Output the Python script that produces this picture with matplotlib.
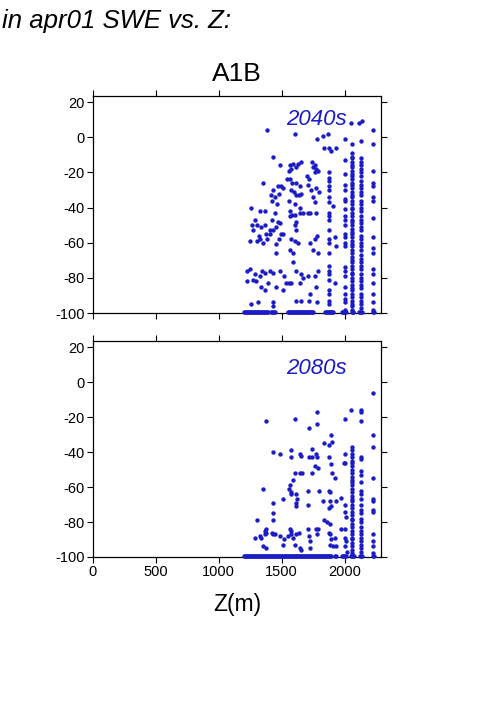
import numpy as np
import matplotlib
matplotlib.use("Agg")
import matplotlib.pyplot as plt

plt.rcParams['font.family'] = ['Liberation Sans', 'DejaVu Sans']
plt.rcParams['axes.unicode_minus'] = False

# --- 2040s: scattered points (Z in m, SWE change in %) ---
z_2040 = [1380, 1610, 1830, 1865, 2115, 2135, 2055, 1780, 1840, 1880, 1930, 1890, 1430, 1485,
          1565, 1590, 1630, 1650, 1578, 1615, 1560,
          1745, 1762, 1775, 1788, 1748, 1768, 1352,
          1430, 1470, 1497, 1510, 1412, 1444, 1476, 1426, 1465,
          1545, 1563, 1582, 1616, 1643, 1571, 1598, 1616, 1635, 1651, 1558, 1603, 1643,
          1701, 1717, 1709, 1735, 1775, 1796, 1749, 1767,
          1259, 1285, 1267, 1272, 1246,
          1325, 1370, 1304, 1338, 1365, 1320, 1330, 1352, 1307, 1386, 1405, 1378,
          1444, 1423, 1471, 1452, 1431, 1405, 1484, 1497, 1479, 1510, 1452, 1457,
          1563, 1582, 1563, 1608, 1616, 1603, 1616, 1577, 1603, 1629, 1563, 1590,
          1643, 1669, 1709, 1722, 1770, 1780, 1762, 1722, 1749, 1788,
          1907, 1928, 1934, 1921,
          1225, 1251, 1285, 1225, 1272, 1299, 1325, 1346, 1370, 1391, 1410, 1431, 1338, 1365,
          1484, 1516, 1457, 1590, 1616, 1656, 1577, 1558, 1532, 1643, 1669, 1709, 1762, 1788,
          1722, 1775, 1780, 1510, 1616, 1651, 1714,
          1259, 1312, 1431, 1431]
swe_2040 = [4, 2, 1, 2, 8, 9, 8, -1, -6, -6, -6, -8, -11, -16,
            -16, -15, -15, -14, -18, -17, -19,
            -14, -16, -18, -19, -17, -20, -26,
            -30, -28, -28, -29, -33, -34, -32, -36, -38,
            -24, -24, -26, -26, -28, -30, -31, -33, -33, -32, -36, -38, -40,
            -22, -24, -27, -30, -29, -31, -34, -37,
            -40, -47, -50, -53, -59,
            -42, -42, -50, -51, -50, -56, -58, -60, -59, -58, -53, -55,
            -43, -47, -48, -51, -53, -55, -49, -55, -58, -55, -61, -66,
            -42, -44, -45, -44, -48, -50, -53, -58, -59, -60, -64, -66,
            -43, -43, -43, -43, -43, -56, -58, -60, -64, -66,
            -39, -57, -62, -83,
            -76, -75, -78, -82, -81, -82, -79, -76, -77, -83, -76, -77, -85, -87,
            -76, -79, -85, -71, -76, -78, -83, -83, -83, -83, -80, -79, -79, -76,
            -89, -85, -94, -87, -93, -93, -93,
            -95, -94, -94, -96]

# 2040s: stacked columns at single elevations
col1875_2040 = [-20, -23, -25, -28, -30, -34, -37, -43, -45, -47, -53, -58, -60, -66,
                -73, -76, -78, -81, -87, -89, -93, -95]
col2000_2040 = [-1, -13, -21, -27, -30, -35, -36, -41, -45, -47, -50, -55, -57, -60, -62,
                -74, -76, -79, -85, -89, -92, -94, -98]
col2061_2040 = [-4, -9, -11, -12, -14, -16, -17, -19, -21, -22, -24, -26, -27, -29, -31,
                -33, -34, -36, -38, -40, -41, -43, -45, -47, -48, -50, -52, -54, -55, -57,
                -59, -61, -62, -64, -66, -68, -70, -71, -73, -75, -77, -78, -80, -82, -84,
                -86, -87, -89, -91, -93, -95, -96, -98]
col2132_2040 = [-2, -12, -14, -16, -18, -20, -22, -25, -27, -29, -31, -33, -36, -38, -40,
                -42, -45, -47, -49, -51, -53, -56, -58, -60, -62, -64, -67, -69, -71, -73,
                -75, -78, -80, -82, -84, -86, -89, -91, -93, -95, -97]
col2230_2040 = [4, -4, -19, -26, -28, -34, -36, -46, -57, -63, -66, -75, -78, -83, -89,
                -94, -98]
floor_z_2040 = [1200, 1208, 1216, 1224, 1232, 1240, 1248, 1256, 1264, 1272, 1280, 1288,
                1296, 1304, 1312, 1320, 1328, 1336, 1344, 1352, 1360, 1368, 1376, 1384,
                1392, 1418, 1426, 1434, 1442, 1450, 1552, 1560, 1568, 1576, 1584, 1592,
                1600, 1608, 1616, 1624, 1632, 1640, 1648, 1656, 1664, 1672, 1680, 1688,
                1696, 1704, 1712, 1720, 1728, 1736, 1744, 1750, 1842, 1850, 1858, 1866,
                1874, 1882, 1890, 1898, 1905, 1976, 1984, 1992, 2000, 2008, 2056, 2064,
                2070, 2118, 2126, 2134, 2140, 2228, 2234]

# --- 2080s ---
z_2080 = [2053, 2000, 1378, 1608, 1780, 1780, 1717, 1894, 1836, 1873, 1899, 1743, 1431, 1484,
          1571, 1577, 1648, 1651, 1717, 1743, 1770, 1780, 1873, 2000, 2005, 1995, 1889,
          1767, 1788, 1648, 1661, 1603, 1590, 1741, 1899, 1928, 1352, 1563, 1558, 1571,
          1577, 1431, 1510, 1616, 1624, 1616, 1616, 1709, 1709, 1796, 1873, 1886, 1881,
          1889, 1828, 1873, 1934, 1973, 2000, 2000, 2013,
          1304, 1378, 1365, 1285, 1325, 1338, 1365, 1378, 1352, 1378,
          1431, 1431, 1426, 1431, 1444, 1484, 1510, 1518, 1550, 1571, 1577, 1563, 1590,
          1616, 1637, 1603, 1643, 1651,
          1709, 1714, 1722, 1722, 1775, 1788, 1783,
          1836, 1862, 1881, 1873, 1881, 1894, 1881, 1907, 1934, 1921,
          1973, 2000, 2000, 2013, 2000, 2021]
swe_2080 = [-16, -21, -22, -21, -17, -24, -26, -30, -35, -36, -34, -38, -40, -41,
            -39, -43, -41, -42, -43, -43, -41, -43, -43, -41, -46, -46, -47,
            -48, -49, -52, -52, -52, -56, -52, -52, -55, -61, -59, -61, -63,
            -64, -69, -67, -64, -67, -69, -71, -62, -70, -62, -62, -63, -68,
            -71, -68, -72, -68, -66, -70, -74, -77,
            -79, -84, -85, -89, -88, -89, -87, -86, -94, -95,
            -75, -79, -86, -87, -87, -88, -93, -90, -88, -87, -85, -84, -89,
            -87, -86, -93, -95, -96,
            -84, -88, -91, -95, -84, -84, -87,
            -79, -80, -81, -86, -87, -90, -93, -94, -94, -89,
            -84, -84, -89, -91, -94, -97]

col2061_2080 = [-37, -39, -41, -43, -45, -46, -48, -50, -52, -54, -56, -57, -59, -61, -63,
                -65, -67, -68, -70, -72, -74, -76, -78, -79, -81, -83, -85, -87, -89, -90,
                -92, -94, -96, -98]
col2132_2080 = [-16, -17, -22, -43, -44, -51, -53, -57, -62, -64, -67, -70, -73, -75, -78,
                -80, -83, -85, -87, -89, -91, -93, -95, -97]
col2230_2080 = [-6, -30, -37, -55, -67, -68, -73, -74, -87, -91, -94, -98]
floor_z_2080 = [1200, 1208, 1216, 1224, 1232, 1240, 1248, 1256, 1264, 1272, 1280, 1288,
                1296, 1304, 1312, 1320, 1328, 1336, 1344, 1352, 1360, 1368, 1376, 1384,
                1392, 1400, 1408, 1416, 1424, 1432, 1440, 1448, 1456, 1464, 1472, 1480,
                1488, 1496, 1504, 1512, 1520, 1528, 1536, 1544, 1552, 1560, 1568, 1576,
                1584, 1592, 1600, 1608, 1616, 1624, 1632, 1640, 1648, 1656, 1664, 1672,
                1680, 1688, 1696, 1704, 1712, 1720, 1728, 1736, 1744, 1752, 1760, 1768,
                1776, 1784, 1792, 1800, 1808, 1816, 1824, 1832, 1840, 1848, 1856, 1864,
                1872, 1880, 1888, 1896, 1922, 1930, 1982, 1990, 1998, 2006, 2013, 2052,
                2060, 2068, 2074, 2122, 2130, 2138, 2228, 2234]

periods = ['2040s', '2080s']
blue = '#1c1cc4'


def gather(z, swe, cols, floor_z):
    xs = list(z)
    ys = list(swe)
    for zc, vals in cols:
        xs += [zc] * len(vals)
        ys += vals
    xs += floor_z
    ys += [-99.3] * len(floor_z)
    return np.array(xs), np.array(ys)


data = [
    gather(z_2040, swe_2040, [(1875, col1875_2040), (2000, col2000_2040), (2061, col2061_2040),
                              (2132, col2132_2040), (2230, col2230_2040)], floor_z_2040),
    gather(z_2080, swe_2080, [(2061, col2061_2080), (2132, col2132_2080),
                              (2230, col2230_2080)], floor_z_2080),
]

fig = plt.figure(figsize=(5.01, 7.09), dpi=100)
ax1 = fig.add_axes([0.1856, 0.5585, 0.5749, 0.3061])
ax2 = fig.add_axes([0.1856, 0.2144, 0.5749, 0.3047])

for ax, (xs, ys), label, ytxt in zip([ax1, ax2], data, periods, [0.89, 0.872]):
    ax.scatter(xs, ys, s=10, color=blue, linewidths=0, clip_on=False, zorder=3)
    ax.set_xlim(0, 2290)
    ax.set_ylim(-100, 23.5)
    ax.set_xticks([0, 500, 1000, 1500, 2000])
    ax.set_yticks([-100, -80, -60, -40, -20, 0, 20])
    ax.tick_params(direction='out', length=4, width=0.8, top=True, right=True,
                   labelsize=10.5, pad=2)
    for sp in ax.spines.values():
        sp.set_linewidth(0.9)
    ax.text(0.775, ytxt, label, transform=ax.transAxes, ha='center', va='center',
            fontsize=16, style='italic', color=blue)

ax1.tick_params(labelbottom=False)
ax1.set_title('A1B', fontsize=19, pad=11)
ax2.set_xlabel('Z(m)', fontsize=16.5, labelpad=10)

fig.text(0.004, 0.970, 'in apr01 SWE vs. Z:', fontsize=18.5, style='italic',
         ha='left', va='center')

fig.savefig('out.png', dpi=100)
